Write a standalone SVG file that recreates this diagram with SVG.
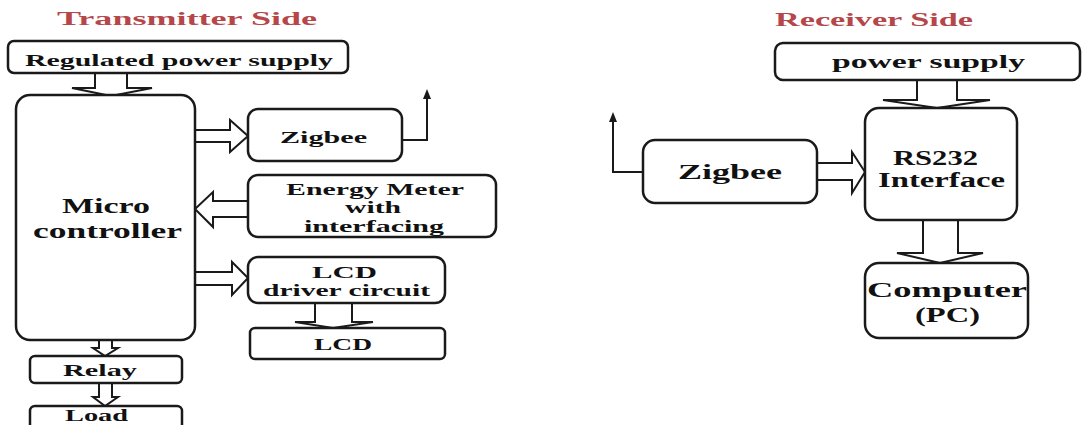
<svg xmlns="http://www.w3.org/2000/svg" width="1083" height="425" viewBox="0 0 1083 425">
<defs>
<style>
.box{fill:#fff;stroke:#1a1a1a;stroke-width:2.5}
.arr{fill:#fff;stroke:#1a1a1a;stroke-width:2;stroke-linejoin:miter}
.ant{fill:none;stroke:#1a1a1a;stroke-width:2}
text{font-family:"Liberation Serif","Times New Roman",serif;font-weight:bold;fill:#111;text-anchor:start}
.title{fill:#b5474a;font-size:18px}
</style>
<marker id="ah" viewBox="0 0 10 10" refX="5" refY="5" markerWidth="5" markerHeight="5" orient="auto">
<path d="M0,1 L10,5 L0,9 Z" fill="#1a1a1a"/>
</marker>
</defs>
<rect width="1083" height="425" fill="#fff"/>

<text class="title" x="57" y="25" textLength="260" lengthAdjust="spacingAndGlyphs">Transmitter Side</text>
<text class="title" x="775" y="26" textLength="198" lengthAdjust="spacingAndGlyphs">Receiver Side</text>

<g id="connectors">
<path class="arr" d="M95,73 V88 H72 L111,96 L152,88 H127 V73"/>
<path class="arr" d="M195,130 H230 V120 L248,136 L230,152 V142 H195"/>
<path class="arr" d="M248,201 H213 V192 L195,209 L213,227 V217 H248"/>
<path class="arr" d="M195,272 H232 V262 L248,278 L232,295 V285 H195"/>
<path class="arr" d="M315,303 V322 H295 L333,328 L373,322 H352 V303"/>
<path class="arr" d="M99,340 V348 H93 L105,356 L118,348 H112 V340"/>
<path class="arr" d="M99,383 V397 H93 L105,406 L118,397 H112 V383"/>
<path class="arr" d="M917,80 V100 H883 L937,108 L990,100 H957 V80"/>
<path class="arr" d="M817,163 H852 V152 L865,172 L852,193 V180 H817"/>
<path class="arr" d="M923,220 V253 H897 L940,263 L983,253 H958 V220"/>
<path class="ant" d="M402,140 H427 V94" marker-end="url(#ah)"/>
<path class="ant" d="M643,172 H613 V117" marker-end="url(#ah)"/>
</g>

<g id="reg-power">
<rect class="box" x="8" y="41" width="340" height="32" rx="6"/>
<text x="25" y="66" font-size="17" textLength="308" lengthAdjust="spacingAndGlyphs">Regulated power supply</text>
</g>
<g id="micro">
<rect class="box" x="16" y="95" width="179" height="245" rx="14"/>
<text x="62" y="213" font-size="20" textLength="88" lengthAdjust="spacingAndGlyphs">Micro</text>
<text x="33" y="238" font-size="20" textLength="149" lengthAdjust="spacingAndGlyphs">controller</text>
</g>
<g id="zigbee-tx">
<rect class="box" x="248" y="109" width="154" height="52" rx="10"/>
<text x="280" y="143" font-size="17" textLength="87" lengthAdjust="spacingAndGlyphs">Zigbee</text>
</g>
<g id="energy">
<rect class="box" x="248" y="175" width="248" height="62" rx="10"/>
<text x="286" y="195" font-size="17" textLength="178" lengthAdjust="spacingAndGlyphs">Energy Meter</text>
<text x="345" y="213" font-size="17" textLength="56" lengthAdjust="spacingAndGlyphs">with</text>
<text x="304" y="232" font-size="17" textLength="140" lengthAdjust="spacingAndGlyphs">interfacing</text>
</g>
<g id="lcd-driver">
<rect class="box" x="248" y="257" width="197" height="46" rx="10"/>
<text x="312" y="278" font-size="17" textLength="65" lengthAdjust="spacingAndGlyphs">LCD</text>
<text x="263" y="296" font-size="17" textLength="167" lengthAdjust="spacingAndGlyphs">driver circuit</text>
</g>
<g id="lcd">
<rect class="box" x="250" y="328" width="195" height="31" rx="5"/>
<text x="314" y="350" font-size="17" textLength="58" lengthAdjust="spacingAndGlyphs">LCD</text>
</g>
<g id="relay">
<rect class="box" x="30" y="356" width="152" height="27" rx="5"/>
<text x="63" y="376" font-size="17" textLength="74" lengthAdjust="spacingAndGlyphs">Relay</text>
</g>
<g id="load">
<rect class="box" x="30" y="406" width="152" height="30" rx="5"/>
<text x="65" y="421" font-size="17" textLength="63" lengthAdjust="spacingAndGlyphs">Load</text>
</g>

<g id="power-rx">
<rect class="box" x="775" y="43" width="305" height="37" rx="8"/>
<text x="832" y="68" font-size="18" textLength="193" lengthAdjust="spacingAndGlyphs">power supply</text>
</g>
<g id="rs232">
<rect class="box" x="865" y="108" width="152" height="112" rx="14"/>
<text x="893" y="165" font-size="20" textLength="85" lengthAdjust="spacingAndGlyphs">RS232</text>
<text x="878" y="187" font-size="20" textLength="127" lengthAdjust="spacingAndGlyphs">Interface</text>
</g>
<g id="zigbee-rx">
<rect class="box" x="643" y="140" width="174" height="63" rx="12"/>
<text x="678" y="179" font-size="20" textLength="104" lengthAdjust="spacingAndGlyphs">Zigbee</text>
</g>
<g id="computer">
<rect class="box" x="865" y="263" width="163" height="75" rx="14"/>
<text x="867" y="297" font-size="20" textLength="160" lengthAdjust="spacingAndGlyphs">Computer</text>
<text x="915" y="322" font-size="20" textLength="65" lengthAdjust="spacingAndGlyphs">(PC)</text>
</g>
</svg>
